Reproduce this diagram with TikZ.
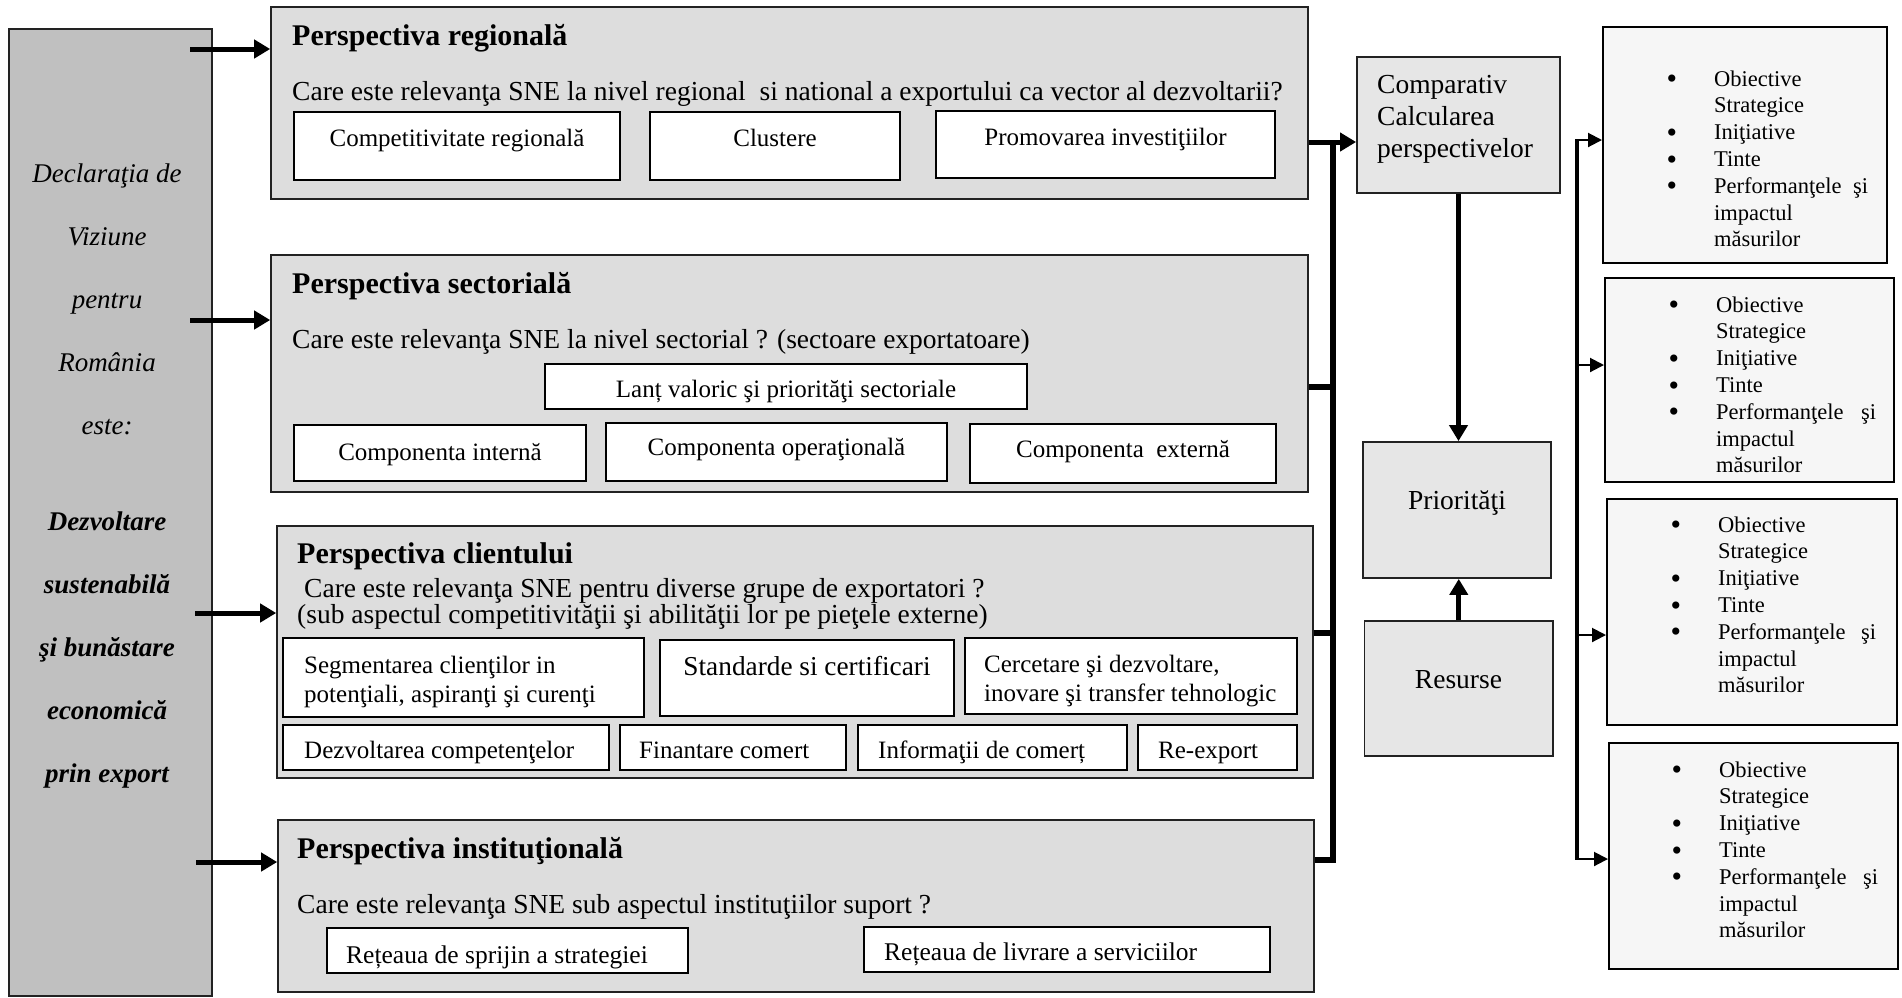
\documentclass[tikz,border=0pt]{standalone}
\usepackage{fontspec}
\setmainfont{Liberation Serif}
\usetikzlibrary{arrows.meta,fit}
\definecolor{leftfill}{HTML}{C0C0C0}
\definecolor{perspfill}{HTML}{DDDDDD}
\definecolor{midfill}{HTML}{E6E6E6}
\definecolor{rightfill}{HTML}{F6F6F6}
\definecolor{edge}{HTML}{222222}
\tikzset{
 leftbox/.style={draw=edge, line width=1.5pt, fill=leftfill},
 perspbox/.style={draw=edge, line width=1.6pt, fill=perspfill},
 subbox/.style={draw=black, line width=2pt, fill=white},
 midbox/.style={draw=edge, line width=1.8pt, fill=midfill},
 rightbox/.style={draw=black, line width=2pt, fill=rightfill},
 txt/.style={anchor=base west, inner sep=0pt, font=\fontsize{25}{29}\selectfont},
 qtxt/.style={anchor=base west, inner sep=0pt, font=\fontsize{27.5}{31}\selectfont},
 ctxt/.style={anchor=base, inner sep=0pt, font=\fontsize{25}{29}\selectfont},
 ttl/.style={anchor=base west, inner sep=0pt, font=\fontsize{30}{34}\selectfont\bfseries},
 midtxt/.style={inner sep=0pt, font=\fontsize{27.5}{32}\selectfont},
 bigarrow/.style={line width=5pt, -{Triangle[length=16pt,width=18pt]}},
 busline/.style={line width=5.5pt, line join=miter},
 thinarrow/.style={line width=2pt, -{Triangle[length=14pt,width=14pt]}},
}
\newcommand\bx[6]{\node[#1, fit={(#3,#4) (#5,#6)}, inner sep=0pt] (#2) {};}
\newcommand\rb{\leavevmode\llap{\raisebox{-2.6pt}{\fontsize{30}{30}\selectfont\textbullet}\hspace{37pt}}}
\newcommand\rlist[1]{\parbox[t]{#1}{\fontsize{22.5}{26.8}\selectfont\rb Obiective\\ Strategice\\ \rb Iniţiative\\ \rb Tinte\\ \rb Performanţele\hfill şi\\ impactul\\ măsurilor}}
\begin{document}
\begin{tikzpicture}[x=1pt,y=-1pt]
\useasboundingbox (0,0) rectangle (1902,997);
\fill[white] (0,0) rectangle (1902,997);

% ---------- boxes ----------
\bx{leftbox}{lbox}{9}{29}{212}{996}
\bx{perspbox}{reg}{271}{7}{1308}{199}
\bx{perspbox}{sec}{271}{255}{1308}{492}
\bx{perspbox}{cli}{277}{526}{1313}{778}
\bx{perspbox}{ins}{278}{820}{1314}{992}

\bx{subbox}{r1}{294}{112}{620}{180}
\bx{subbox}{r2}{650}{112}{900}{180}
\bx{subbox}{r3}{936}{111}{1275}{178}

\bx{subbox}{s0}{545}{364}{1027}{409}
\bx{subbox}{s1}{294}{425}{586}{481}
\bx{subbox}{s2}{606}{423}{947}{481}
\bx{subbox}{s3}{970}{424}{1276}{483}

\bx{subbox}{c1}{283}{638}{644}{717}
\bx{subbox}{c2}{660}{640}{954}{716}
\bx{subbox}{c3}{965}{638}{1297}{714}
\bx{subbox}{c4}{283}{725}{609}{770}
\bx{subbox}{c5}{620}{725}{846}{770}
\bx{subbox}{c6}{858}{725}{1127}{770}
\bx{subbox}{c7}{1138}{725}{1297}{770}

\bx{subbox}{i1}{327}{928}{688}{973}
\bx{subbox}{i2}{864}{927}{1270}{972}

\bx{midbox}{comp}{1357}{57}{1560}{193}
\bx{midbox}{prio}{1363}{442}{1551}{578}
\bx{midbox}{res}{1364.5}{621}{1553}{756}

\bx{rightbox}{o1}{1603}{27}{1887}{263}
\bx{rightbox}{o2}{1605}{278}{1894}{482}
\bx{rightbox}{o3}{1607}{499}{1897}{725}
\bx{rightbox}{o4}{1609}{743}{1898}{969}

% ---------- left text ----------
\node[anchor=base, inner sep=0pt] (lt1) at (107,182)
  {\parbox[t]{200pt}{\centering\fontsize{27}{63.2}\selectfont\itshape Declaraţia de\\ Viziune\\ pentru\\ România\\ este:}};
\node[anchor=base, inner sep=0pt] (lt2) at (107,530)
  {\parbox[t]{200pt}{\centering\fontsize{27}{63}\selectfont\bfseries\itshape Dezvoltare\\ sustenabilă\\ şi bunăstare\\ economică\\ prin export}};

% ---------- regional ----------
\node[ttl] (regt) at (292,45) {Perspectiva regională};
\node[qtxt] (regq) at (292,100) {Care este relevanţa SNE la nivel regional \ si national a exportului ca vector al dezvoltarii?};
\node[ctxt] (r1t) at (457,146) {Competitivitate regională};
\node[ctxt] (r2t) at (775,146) {Clustere};
\node[ctxt] (r3t) at (1105.5,145) {Promovarea investiţiilor};

% ---------- sectoral ----------
\node[ttl] (sect) at (292,293) {Perspectiva sectorială};
\node[qtxt] (secq) at (292,348) {Care este relevanţa SNE la nivel sectorial ? (sectoare exportatoare)};
\node[ctxt] (s0t) at (786,397) {Lanț valoric şi priorităţi sectoriale};
\node[ctxt] (s1t) at (440,460) {Componenta internă};
\node[ctxt] (s2t) at (776.5,455) {Componenta operaţională};
\node[ctxt] (s3t) at (1123,457) {Componenta \ externă};

% ---------- client ----------
\node[ttl] (clit) at (297,563) {Perspectiva clientului};
\node[anchor=base west, inner sep=0pt] (cliq) at (297,597)
  {\parbox[t]{1000pt}{\fontsize{27.5}{25}\selectfont\hspace*{7pt}Care este relevanţa SNE pentru diverse grupe de exportatori ?\\ (sub aspectul competitivităţii şi abilităţii lor pe pieţele externe)}};
\node[txt] (c1t) at (304,673) {\parbox[t]{330pt}{\fontsize{25}{29}\selectfont Segmentarea clienţilor in\\ potenţiali, aspiranţi şi curenţi}};
\node[ctxt, font=\fontsize{27.3}{30}\selectfont] (c2t) at (807,675) {Standarde si certificari};
\node[txt] (c3t) at (984,672) {\parbox[t]{320pt}{\fontsize{25}{29}\selectfont Cercetare şi dezvoltare,\\ inovare şi transfer tehnologic}};
\node[txt] (c4t) at (304,758) {Dezvoltarea competenţelor};
\node[txt] (c5t) at (639,758) {Finantare comert};
\node[txt] (c6t) at (878,758) {Informaţii de comerț};
\node[txt] (c7t) at (1158,758) {Re-export};

% ---------- institutional ----------
\node[ttl] (inst) at (297,858) {Perspectiva instituţională};
\node[qtxt] (insq) at (297,913) {Care este relevanţa SNE sub aspectul instituţiilor suport ?};
\node[txt, font=\fontsize{25.5}{29}\selectfont] (i1t) at (346,963) {Rețeaua de sprijin a strategiei};
\node[txt, font=\fontsize{25.5}{29}\selectfont] (i2t) at (884,960) {Rețeaua de livrare a serviciilor};

% ---------- middle ----------
\node[midtxt, anchor=base west] (compt) at (1377,93)
  {\parbox[t]{180pt}{\fontsize{27.5}{32}\selectfont Comparativ\\ Calcularea\\ perspectivelor}};
\node[midtxt, anchor=base] (priot) at (1457,509) {Priorităţi};
\node[midtxt, anchor=base] (rest) at (1458.5,688) {Resurse};

% ---------- right lists ----------
\node[anchor=base west, inner sep=0pt] (o1t) at (1714,86) {\rlist{154pt}};
\node[anchor=base west, inner sep=0pt] (o2t) at (1716,312) {\rlist{160pt}};
\node[anchor=base west, inner sep=0pt] (o3t) at (1718,532) {\rlist{158pt}};
\node[anchor=base west, inner sep=0pt] (o4t) at (1719,777) {\rlist{159pt}};

% ---------- connectors ----------
\coordinate (a1) at (190,49);
\coordinate (a2) at (190,320);
\coordinate (a3) at (195,613);
\coordinate (a4) at (196,862);
\draw[bigarrow] (a1) -- (a1 -| reg.west);
\draw[bigarrow] (a2) -- (a2 -| sec.west);
\draw[bigarrow] (a3) -- (a3 -| cli.west);
\draw[bigarrow] (a4) -- (a4 -| ins.west);

\coordinate (b1) at (1333,142);
\coordinate (b2) at (1333,387);
\coordinate (b3) at (1333,633);
\coordinate (b4) at (1333,860);
\draw[busline] (b4 -| ins.east) -- (b4) -- (b1);
\draw[busline] (b2 -| sec.east) -- (b2);
\draw[busline] (b3 -| cli.east) -- (b3);
\draw[bigarrow] (b1 -| reg.east) -- (b1 -| comp.west);

\draw[bigarrow] (comp.south) -- (comp.south |- prio.north);
\draw[bigarrow] (res.north) -- (res.north |- prio.south);

\coordinate (d1) at (1577,140);
\coordinate (d2) at (1577,365);
\coordinate (d3) at (1577,635);
\coordinate (d4) at (1577,859);
\draw[line width=4.5pt] ([yshift=1pt]d1) -- ([yshift=-1pt]d4);
\draw[thinarrow] (d1) -- (d1 -| o1.west);
\draw[thinarrow] (d2) -- (d2 -| o2.west);
\draw[thinarrow] (d3) -- (d3 -| o3.west);
\draw[thinarrow] (d4) -- (d4 -| o4.west);
\end{tikzpicture}
\end{document}
